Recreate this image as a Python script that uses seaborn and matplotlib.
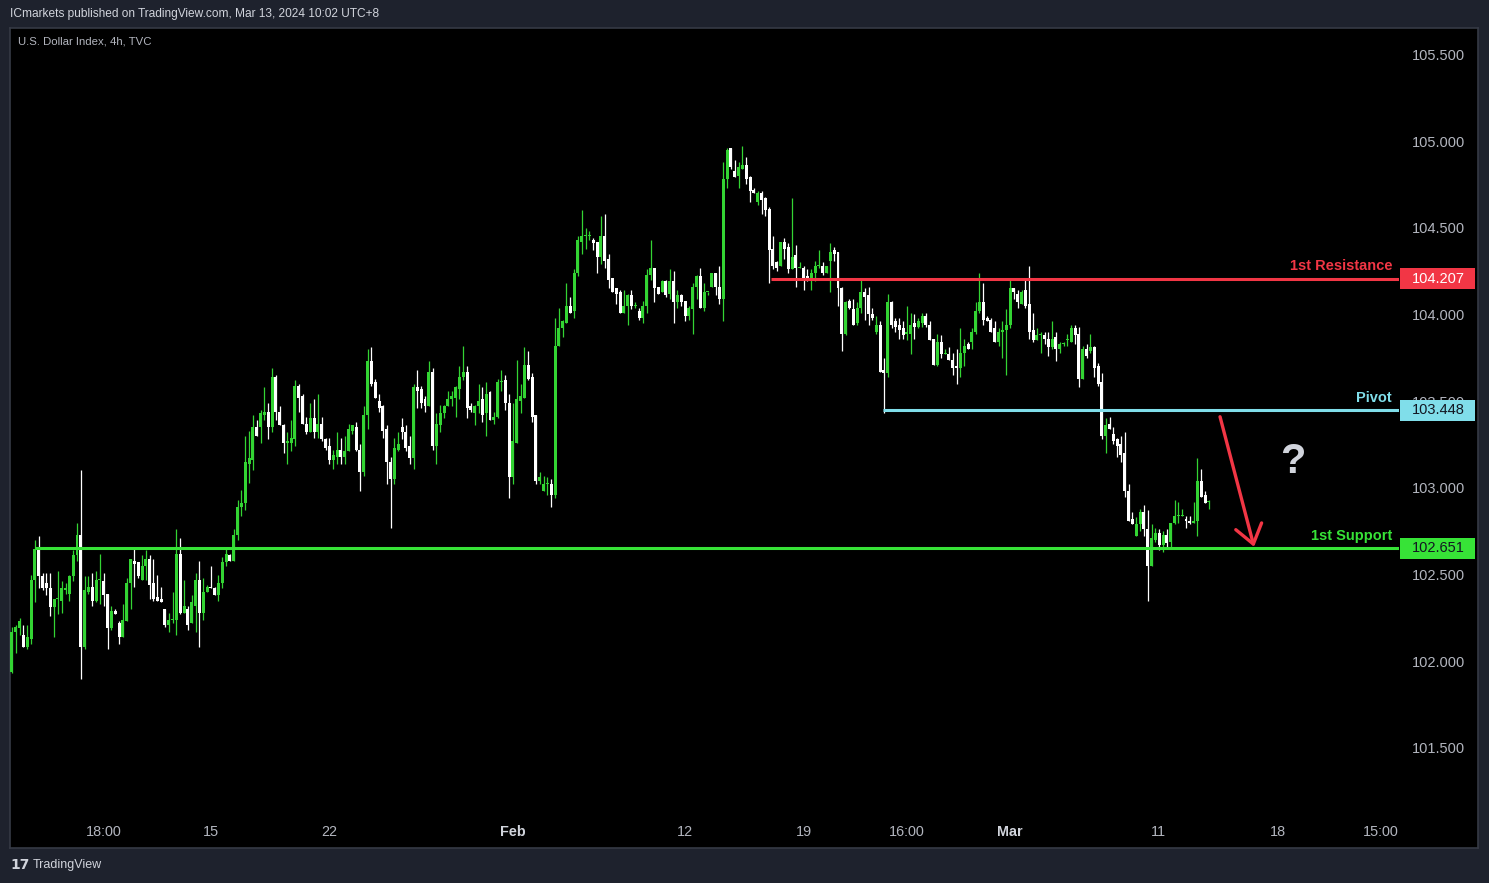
import matplotlib
matplotlib.use("Agg")
import matplotlib.pyplot as plt
import matplotlib.transforms as mtransforms
from matplotlib.patches import Rectangle
from matplotlib import font_manager as fm
import seaborn as sns

# ---------------- data (4h candles, U.S. Dollar Index) ----------------
opens = [
    101.94, 102.17, 102.19, 102.15, 102.08, 102.13, 102.47, 102.64, 102.49, 102.45,
    102.42, 102.31, 102.36, 102.35, 102.41, 102.39, 102.49, 102.61, 102.73, 102.08,
    102.40, 102.43, 102.35, 102.47, 102.46, 102.39, 102.19, 102.29, 102.22, 102.14,
    102.23, 102.45, 102.58, 102.57, 102.47, 102.55, 102.59, 102.45, 102.37, 102.36,
    102.30, 102.21, 102.24, 102.24, 102.62, 102.28, 102.30, 102.22, 102.32, 102.47,
    102.28, 102.40, 102.43, 102.42, 102.38, 102.45, 102.57, 102.61, 102.58, 102.73,
    102.89, 102.91, 103.14, 103.16, 103.35, 103.35, 103.42, 103.44, 103.35, 103.64,
    103.44, 103.36, 103.26, 103.26, 103.28, 103.59, 103.53, 103.37, 103.32, 103.40,
    103.32, 103.37, 103.28, 103.24, 103.16, 103.18, 103.22, 103.18, 103.21, 103.33,
    103.35, 103.22, 103.09, 103.42, 103.73, 103.61, 103.50, 103.47, 103.34, 103.15,
    103.05, 103.22, 103.35, 103.32, 103.24, 103.17, 103.58, 103.57, 103.51, 103.47,
    103.67, 103.24, 103.36, 103.43, 103.47, 103.51, 103.52, 103.57, 103.64, 103.67,
    103.47, 103.43, 103.47, 103.51, 103.43, 103.55, 103.39, 103.41, 103.61, 103.62,
    103.49, 103.06, 103.26, 103.50, 103.52, 103.71, 103.64, 103.42, 103.04, 102.98,
    103.02, 103.02, 102.96, 103.82, 103.92, 103.95, 104.05, 104.02, 104.24, 104.42,
    104.45, 104.45, 104.43, 104.42, 104.33, 104.45, 104.32, 104.21, 104.15, 104.13,
    104.01, 104.05, 104.11, 104.05, 104.02, 103.98, 104.05, 104.23, 104.27, 104.16,
    104.13, 104.19, 104.12, 104.19, 104.07, 104.11, 104.08, 103.99, 104.03, 104.16,
    104.22, 104.04, 104.13, 104.16, 104.24, 104.16, 104.09, 104.78, 104.96, 104.83,
    104.80, 104.84, 104.86, 104.79, 104.72, 104.65, 104.70, 104.67, 104.61, 104.38,
    104.30, 104.28, 104.42, 104.39, 104.26, 104.34, 104.27, 104.27, 104.22, 104.20,
    104.24, 104.28, 104.28, 104.24, 104.31, 104.37, 104.36, 104.15, 103.89, 104.08,
    104.03, 103.95, 104.04, 104.13, 104.11, 104.00, 103.90, 103.94, 103.68, 103.66,
    104.07, 103.96, 103.94, 103.92, 103.89, 103.89, 103.95, 103.93, 103.95, 103.99,
    103.94, 103.86, 103.71, 103.84, 103.77, 103.77, 103.74, 103.70, 103.69, 103.78,
    103.83, 103.84, 103.90, 104.02, 104.07, 103.98, 103.97, 103.92, 103.84, 103.90,
    103.91, 103.94, 104.15, 104.12, 104.06, 104.14, 104.06, 103.91, 103.85, 103.88,
    103.88, 103.86, 103.81, 103.87, 103.80, 103.83, 103.85, 103.84, 103.92, 103.89,
    103.63, 103.80, 103.79, 103.81, 103.70, 103.61, 103.30, 103.37, 103.31, 103.28,
    103.25, 103.20, 102.98, 102.82, 102.72, 102.79, 102.86, 102.76, 102.55, 102.70,
    102.74, 102.67, 102.73, 102.69, 102.80, 102.84, 102.84, 102.82, 102.81, 102.80,
    102.81, 103.04, 102.96, 102.92,
]
closes = [
    102.17, 102.20, 102.23, 102.08, 102.14, 102.47, 102.65, 102.49, 102.42, 102.42,
    102.31, 102.36, 102.36, 102.42, 102.42, 102.49, 102.61, 102.73, 102.08, 102.41,
    102.43, 102.35, 102.47, 102.47, 102.38, 102.19, 102.29, 102.27, 102.14, 102.24,
    102.45, 102.59, 102.56, 102.49, 102.55, 102.59, 102.44, 102.36, 102.35, 102.34,
    102.21, 102.24, 102.24, 102.62, 102.28, 102.32, 102.21, 102.34, 102.47, 102.28,
    102.40, 102.43, 102.42, 102.38, 102.45, 102.57, 102.62, 102.58, 102.73, 102.89,
    102.91, 103.15, 103.17, 103.35, 103.30, 103.43, 103.44, 103.35, 103.64, 103.44,
    103.36, 103.26, 103.27, 103.29, 103.59, 103.52, 103.37, 103.32, 103.40, 103.32,
    103.37, 103.28, 103.23, 103.16, 103.19, 103.22, 103.18, 103.21, 103.34, 103.36,
    103.22, 103.09, 103.42, 103.73, 103.60, 103.52, 103.46, 103.33, 103.15, 103.05,
    103.23, 103.25, 103.32, 103.23, 103.17, 103.58, 103.56, 103.49, 103.47, 103.67,
    103.24, 103.37, 103.43, 103.47, 103.51, 103.53, 103.58, 103.64, 103.67, 103.46,
    103.45, 103.47, 103.50, 103.42, 103.54, 103.39, 103.41, 103.61, 103.61, 103.49,
    103.06, 103.27, 103.51, 103.53, 103.71, 103.63, 103.41, 103.04, 103.06, 103.02,
    103.02, 102.96, 103.82, 103.92, 103.96, 104.05, 104.01, 104.24, 104.43, 104.45,
    104.45, 104.45, 104.41, 104.33, 104.45, 104.31, 104.20, 104.13, 104.12, 104.01,
    104.05, 104.11, 104.05, 104.05, 103.98, 104.05, 104.23, 104.27, 104.15, 104.12,
    104.19, 104.11, 104.19, 104.07, 104.11, 104.07, 103.99, 104.04, 104.16, 104.22,
    104.04, 104.13, 104.13, 104.24, 104.16, 104.09, 104.78, 104.95, 104.85, 104.79,
    104.85, 104.86, 104.78, 104.71, 104.70, 104.70, 104.66, 104.60, 104.37, 104.28,
    104.27, 104.42, 104.38, 104.26, 104.33, 104.27, 104.27, 104.20, 104.20, 104.24,
    104.28, 104.28, 104.24, 104.28, 104.36, 104.35, 104.15, 103.89, 104.07, 104.04,
    103.94, 104.04, 104.13, 104.10, 104.00, 103.98, 103.94, 103.67, 103.66, 104.07,
    103.94, 103.93, 103.91, 103.88, 103.90, 103.94, 103.93, 103.96, 103.99, 103.94,
    103.85, 103.71, 103.84, 103.77, 103.78, 103.74, 103.69, 103.69, 103.78, 103.82,
    103.80, 103.90, 104.02, 104.07, 103.97, 103.96, 103.90, 103.84, 103.90, 103.91,
    103.94, 104.15, 104.13, 104.07, 104.13, 104.05, 103.90, 103.85, 103.88, 103.88,
    103.86, 103.81, 103.86, 103.80, 103.83, 103.83, 103.85, 103.92, 103.88, 103.63,
    103.80, 103.76, 103.81, 103.69, 103.60, 103.30, 103.36, 103.34, 103.27, 103.24,
    103.19, 102.98, 102.81, 102.79, 102.79, 102.86, 102.76, 102.55, 102.71, 102.74,
    102.67, 102.73, 102.68, 102.80, 102.84, 102.84, 102.84, 102.81, 102.80, 102.81,
    103.04, 102.95, 102.91, 102.92,
]
highs = [
    102.20, 102.21, 102.25, 102.21, 102.21, 102.50, 102.70, 102.72, 102.51, 102.51,
    102.51, 102.36, 102.52, 102.46, 102.45, 102.50, 102.64, 102.80, 103.10, 102.49,
    102.49, 102.51, 102.52, 102.62, 102.51, 102.39, 102.32, 102.30, 102.23, 102.33,
    102.48, 102.59, 102.65, 102.57, 102.61, 102.64, 102.61, 102.59, 102.50, 102.43,
    102.30, 102.28, 102.40, 102.76, 102.71, 102.47, 102.32, 102.38, 102.51, 102.58,
    102.48, 102.44, 102.55, 102.43, 102.50, 102.60, 102.66, 102.62, 102.76, 102.93,
    102.99, 103.30, 103.33, 103.42, 103.39, 103.45, 103.58, 103.49, 103.69, 103.65,
    103.47, 103.37, 103.32, 103.39, 103.62, 103.60, 103.54, 103.41, 103.49, 103.51,
    103.54, 103.41, 103.29, 103.29, 103.22, 103.32, 103.29, 103.30, 103.37, 103.36,
    103.38, 103.25, 103.47, 103.80, 103.81, 103.63, 103.54, 103.48, 103.36, 103.18,
    103.29, 103.32, 103.40, 103.36, 103.30, 103.60, 103.68, 103.59, 103.53, 103.73,
    103.69, 103.43, 103.48, 103.48, 103.56, 103.56, 103.59, 103.70, 103.82, 103.70,
    103.49, 103.48, 103.60, 103.58, 103.61, 103.56, 103.44, 103.63, 103.68, 103.65,
    103.54, 103.49, 103.74, 103.60, 103.81, 103.79, 103.66, 103.42, 103.09, 103.07,
    103.06, 103.05, 103.98, 104.04, 103.97, 104.18, 104.10, 104.26, 104.45, 104.60,
    104.50, 104.48, 104.44, 104.42, 104.57, 104.58, 104.35, 104.21, 104.15, 104.14,
    104.14, 104.12, 104.14, 104.07, 104.04, 104.08, 104.26, 104.43, 104.27, 104.16,
    104.20, 104.20, 104.26, 104.25, 104.14, 104.12, 104.08, 104.05, 104.18, 104.23,
    104.27, 104.18, 104.13, 104.24, 104.24, 104.28, 104.88, 104.96, 104.96, 104.89,
    104.88, 104.97, 104.91, 104.80, 104.73, 104.71, 104.71, 104.68, 104.62, 104.45,
    104.31, 104.42, 104.44, 104.41, 104.67, 104.40, 104.30, 104.28, 104.26, 104.26,
    104.31, 104.37, 104.30, 104.28, 104.41, 104.39, 104.36, 104.16, 104.08, 104.09,
    104.09, 104.07, 104.21, 104.15, 104.16, 104.04, 103.99, 103.96, 103.75, 104.12,
    104.08, 103.98, 103.98, 103.96, 104.05, 104.01, 104.00, 103.98, 104.01, 104.01,
    103.96, 103.86, 103.89, 103.88, 103.80, 103.81, 103.78, 103.80, 103.92, 103.86,
    103.84, 103.92, 104.07, 104.24, 104.18, 103.99, 103.98, 103.96, 103.92, 103.96,
    104.03, 104.20, 104.15, 104.14, 104.14, 104.20, 104.28, 104.01, 103.92, 103.90,
    103.90, 103.90, 103.96, 103.90, 103.84, 103.84, 103.89, 103.94, 103.94, 103.93,
    103.82, 103.83, 103.89, 103.82, 103.72, 103.66, 103.40, 103.41, 103.35, 103.29,
    103.30, 103.32, 103.02, 102.86, 102.83, 102.88, 102.90, 102.87, 102.79, 102.77,
    102.76, 102.75, 102.76, 102.80, 102.93, 102.92, 102.88, 102.84, 102.84, 102.92,
    103.17, 103.11, 102.98, 102.93,
]
lows = [
    101.93, 102.05, 102.15, 102.08, 102.07, 102.10, 102.34, 102.42, 102.41, 102.38,
    102.26, 102.14, 102.27, 102.28, 102.39, 102.35, 102.46, 102.58, 101.90, 102.07,
    102.39, 102.32, 102.34, 102.33, 102.32, 102.07, 102.18, 102.27, 102.10, 102.14,
    102.23, 102.30, 102.43, 102.48, 102.47, 102.47, 102.36, 102.35, 102.35, 102.34,
    102.20, 102.17, 102.22, 102.15, 102.27, 102.28, 102.18, 102.22, 102.17, 102.08,
    102.24, 102.40, 102.42, 102.38, 102.35, 102.42, 102.55, 102.58, 102.58, 102.70,
    102.84, 102.87, 103.03, 103.10, 103.30, 103.26, 103.39, 103.28, 103.32, 103.39,
    103.36, 103.20, 103.14, 103.21, 103.24, 103.44, 103.37, 103.31, 103.32, 103.29,
    103.29, 103.27, 103.22, 103.14, 103.11, 103.14, 103.14, 103.14, 103.21, 103.31,
    103.21, 102.98, 103.07, 103.34, 103.59, 103.52, 103.44, 103.29, 103.02, 102.77,
    103.02, 103.21, 103.28, 103.21, 103.14, 103.11, 103.46, 103.46, 103.44, 103.47,
    103.22, 103.14, 103.32, 103.40, 103.47, 103.47, 103.41, 103.51, 103.62, 103.40,
    103.44, 103.36, 103.43, 103.38, 103.30, 103.39, 103.37, 103.40, 103.56, 103.45,
    102.94, 103.02, 103.26, 103.43, 103.52, 103.62, 103.38, 103.02, 103.02, 102.98,
    102.96, 102.89, 102.94, 103.82, 103.87, 103.95, 104.01, 103.98, 104.22, 104.35,
    104.38, 104.43, 104.37, 104.24, 104.29, 104.27, 104.15, 104.13, 104.06, 104.01,
    104.01, 103.94, 104.03, 104.04, 103.97, 103.95, 104.01, 104.20, 104.07, 104.12,
    104.13, 104.10, 104.09, 103.95, 104.04, 104.05, 103.96, 103.97, 103.89, 104.09,
    104.04, 104.02, 104.11, 104.16, 104.11, 104.06, 103.96, 104.73, 104.84, 104.79,
    104.73, 104.84, 104.75, 104.65, 104.70, 104.63, 104.58, 104.57, 104.18, 104.26,
    104.25, 104.28, 104.32, 104.24, 104.26, 104.16, 104.27, 104.14, 104.19, 104.14,
    104.19, 104.27, 104.23, 104.24, 104.13, 104.31, 104.05, 103.79, 103.88, 104.03,
    103.94, 103.94, 104.01, 103.97, 103.94, 103.97, 103.89, 103.67, 103.43, 103.64,
    103.92, 103.90, 103.86, 103.86, 103.85, 103.77, 103.86, 103.92, 103.93, 103.93,
    103.85, 103.71, 103.70, 103.75, 103.77, 103.74, 103.65, 103.60, 103.64, 103.70,
    103.80, 103.80, 103.89, 104.01, 103.94, 103.96, 103.90, 103.84, 103.82, 103.75,
    103.65, 103.92, 104.09, 104.04, 104.06, 104.04, 103.86, 103.84, 103.85, 103.78,
    103.83, 103.76, 103.80, 103.73, 103.78, 103.82, 103.82, 103.84, 103.83, 103.58,
    103.63, 103.75, 103.78, 103.64, 103.59, 103.28, 103.20, 103.34, 103.25, 103.18,
    103.15, 102.95, 102.81, 102.79, 102.72, 102.75, 102.72, 102.35, 102.55, 102.69,
    102.64, 102.63, 102.65, 102.66, 102.79, 102.80, 102.84, 102.77, 102.79, 102.80,
    102.72, 102.95, 102.91, 102.88,
]

# time axis labels (position = candle number)
x_tick_labels = ["18:00", "15", "22", "Feb", "12", "19", "16:00", "Mar", "11", "18", "15:00"]
x_tick_pos = [24.1, 52.1, 83.0, 130.9, 175.9, 207.0, 234.0, 260.9, 299.9, 331.1, 358.0]
bold_labels = ["Feb", "Mar"]

y_ticks = [101.5, 102.0, 102.5, 103.0, 103.5, 104.0, 104.5, 105.0, 105.5]

# key levels: name, price, starting candle
level_names = ["1st Resistance", "Pivot", "1st Support"]
level_prices = [104.207, 103.448, 102.651]
level_starts = [198.4, 227.7, 6.0]
level_colors = ["#f23645", "#80deea", "#37e337"]
level_text_colors = ["#ffffff", "#131722", "#131722"]

arrow_from = (315.9, 103.41)
arrow_to = (324.8, 102.66)
question_at = (335.0, 103.15)

# ---------------- style ----------------
W, H, DPI = 1489, 883, 100
BG = "#1e222d"
sns.set_theme(style="dark", rc={"axes.facecolor": "black", "figure.facecolor": BG,
                                "axes.grid": False})
names = {f.name for f in fm.fontManager.ttflist}
NARROW = "Liberation Sans Narrow" if "Liberation Sans Narrow" in names else "Liberation Sans"
nscale = 1.0 if NARROW == "Liberation Sans Narrow" else 0.86
plt.rcParams["font.family"] = ["Liberation Sans", "DejaVu Sans"]

fig = plt.figure(figsize=(W / DPI, H / DPI), dpi=DPI, facecolor=BG)

# chart pane (background axes under the main one)
pane = fig.add_axes([10 / W, 1 - 848 / H, (1478 - 10) / W, (848 - 28) / H], zorder=-5)
pane.set_facecolor("black")
pane.set_xticks([])
pane.set_yticks([])
for s in pane.spines.values():
    s.set_visible(True)
    s.set_color("#363a45")
    s.set_linewidth(1.2)

ax = fig.add_axes([10 / W, 1 - 810 / H, 1389 / W, 782 / H], zorder=1)
ax.set_facecolor("none")
for s in ax.spines.values():
    s.set_visible(False)

GREEN = "#33d433"
idx = list(range(len(closes)))
colors = [GREEN if c >= o else "#ffffff" for o, c in zip(opens, closes)]
bottoms = [min(o, c) for o, c in zip(opens, closes)]
heights = [max(abs(c - o), 0.006) for o, c in zip(opens, closes)]

ax.vlines(idx, lows, highs, colors=colors, linewidth=0.9, zorder=2)
ax.bar(idx, heights, bottom=bottoms, width=0.78, color=colors, linewidth=0, zorder=3)

ax.set_xlim(-0.52, 362.7)
ax.set_ylim(101.142, 105.652)

# price axis
ax.yaxis.tick_right()
ax.set_yticks(y_ticks)
ax.set_yticklabels([f"{v:.3f}" for v in y_ticks])
ax.tick_params(axis="y", length=0, pad=9.5, labelsize=10.5, labelcolor="#b2b5be")

# time axis
ax.set_xticks(x_tick_pos)
ax.set_xticklabels(x_tick_labels)
ax.tick_params(axis="x", length=0, pad=10.5, labelsize=12 * nscale, labelcolor="#b2b5be")
for lab in ax.get_xticklabels():
    lab.set_fontfamily(NARROW)
    if lab.get_text() in bold_labels:
        lab.set_fontweight("bold")
        lab.set_color("#d1d4dc")

# key levels
blend = mtransforms.blended_transform_factory(ax.transAxes, ax.transData)
xmax = ax.get_xlim()[1]
box_h = 21 * (105.652 - 101.142) / 782
for name, price, start, col, tcol in zip(level_names, level_prices, level_starts,
                                         level_colors, level_text_colors):
    ax.hlines(price, start, xmax, colors=col, linewidth=2.2, zorder=4)
    ax.annotate(name, xy=(0.995, price), xycoords=blend, xytext=(0, 9),
                textcoords="offset points", ha="right", va="center", color=col,
                fontsize=10.5, fontweight="bold", zorder=6)
    ax.add_patch(Rectangle((1.0007, price - box_h / 2), 0.054, box_h, transform=blend,
                           facecolor=col, edgecolor="none", clip_on=False, zorder=7))
    ax.text(1.0281, price, f"{price:.3f}", transform=blend, ha="center", va="center",
            color=tcol, fontsize=10.5, zorder=8, clip_on=False)

# projected move arrow and question mark
ax.annotate("", xy=arrow_to, xytext=arrow_from,
            arrowprops=dict(arrowstyle="->,head_length=1.1,head_width=0.8",
                            color="#f23645", lw=2.4, shrinkA=0, shrinkB=0), zorder=6)
ax.text(question_at[0], question_at[1], "?", fontsize=30, fontweight="bold",
        color="#d1d4dc", ha="center", va="center", zorder=6)

# header / footer texts
fig.text(10 / W, 1 - 14 / H, "ICmarkets published on TradingView.com, Mar 13, 2024 10:02 UTC+8",
         ha="left", va="center", color="#d1d4dc", fontsize=10 * nscale, fontfamily=NARROW)
fig.text(18 / W, 1 - 41 / H, "U.S. Dollar Index, 4h, TVC", ha="left", va="center",
         color="#b2b5be", fontsize=9.5 * nscale, fontfamily=NARROW)
fig.text(10 / W, 1 - 865 / H, "17", ha="left", va="center", color="#d1d4dc",
         fontsize=10, fontweight="heavy", fontfamily="DejaVu Sans")
fig.text(33 / W, 1 - 865 / H, "TradingView", ha="left", va="center", color="#d1d4dc",
         fontsize=10.5 * nscale, fontfamily=NARROW)

fig.savefig("out.png", dpi=DPI, facecolor=BG)
